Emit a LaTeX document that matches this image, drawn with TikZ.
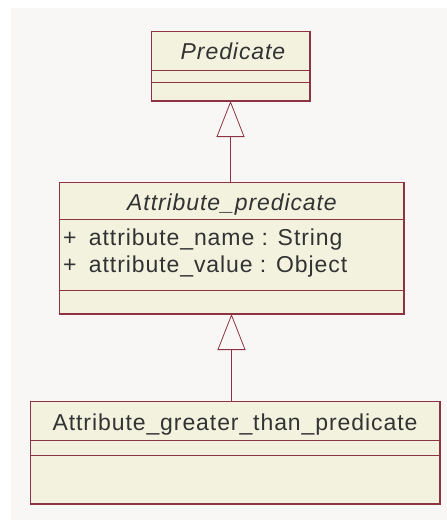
\documentclass[tikz,border=0pt]{standalone}
\usepackage{fontspec}
\setmainfont{Liberation Sans}
\newfontfamily\umlfont[LetterSpace=4]{Liberation Sans}
\usetikzlibrary{arrows.meta}
\definecolor{bgc}{HTML}{F8F7F5}
\definecolor{clsfill}{HTML}{F2F2DF}
\definecolor{clsedge}{HTML}{8E3343}
\definecolor{txtc}{HTML}{333333}
\begin{document}
\begin{tikzpicture}[x=1pt,y=-1pt,
  classbox/.style={draw=clsedge, fill=clsfill, line width=1pt, inner sep=0pt, outer sep=0pt, anchor=north west},
  divider/.style={draw=clsedge, line width=0.8pt},
  shadowedge/.style={draw=clsedge, line width=1.6pt},
  umltext/.style={text=txtc, font=\umlfont\fontsize{23}{27}\selectfont, inner sep=0pt},
  inherit/.style={draw=clsedge, line width=0.8pt, -{Triangle[open, length=36pt, width=28pt]}}
]
\useasboundingbox (0,0) rectangle (447,520);
\fill[bgc] (11,8) rectangle (447,520);

% Predicate
\node[classbox, minimum width=159pt, minimum height=70pt] (pred) at (151,31) {};
\draw[divider] (151,70) -- (310,70);
\draw[divider] (151,82) -- (310,82);
\draw[shadowedge] (pred.north east) -- (pred.south east) -- (pred.south west);
\node[umltext, anchor=base] (predname) at (233,59) {\itshape Predicate};

% Attribute_predicate
\node[classbox, minimum width=345pt, minimum height=132pt] (attr) at (59,182) {};
\draw[divider] (59,219) -- (404,219);
\draw[divider] (59,290) -- (404,290);
\draw[shadowedge] (attr.north east) -- (attr.south east) -- (attr.south west);
\node[umltext, anchor=base] (attrname) at (232,210) {\itshape Attribute\_predicate};
\node[umltext, anchor=base west] (attrone) at (63,245) {+\hspace{5pt} attribute\_name : String};
\node[umltext, anchor=base west] (attrtwo) at (63,272) {+\hspace{5pt} attribute\_value : Object};

% Attribute_greater_than_predicate
\node[classbox, minimum width=410pt, minimum height=103pt] (gt) at (30,401) {};
\draw[divider] (30,440) -- (440,440);
\draw[divider] (30,455) -- (440,455);
\draw[shadowedge] (gt.north east) -- (gt.south east) -- (gt.south west);
\node[umltext, anchor=base] (gtname) at (235,430) {Attribute\_greater\_than\_predicate};

% generalizations
\draw[inherit] (attr.north -| pred.south) -- (pred.south);
\draw[inherit] (gt.north -| attr.south) -- (attr.south);
\end{tikzpicture}
\end{document}
